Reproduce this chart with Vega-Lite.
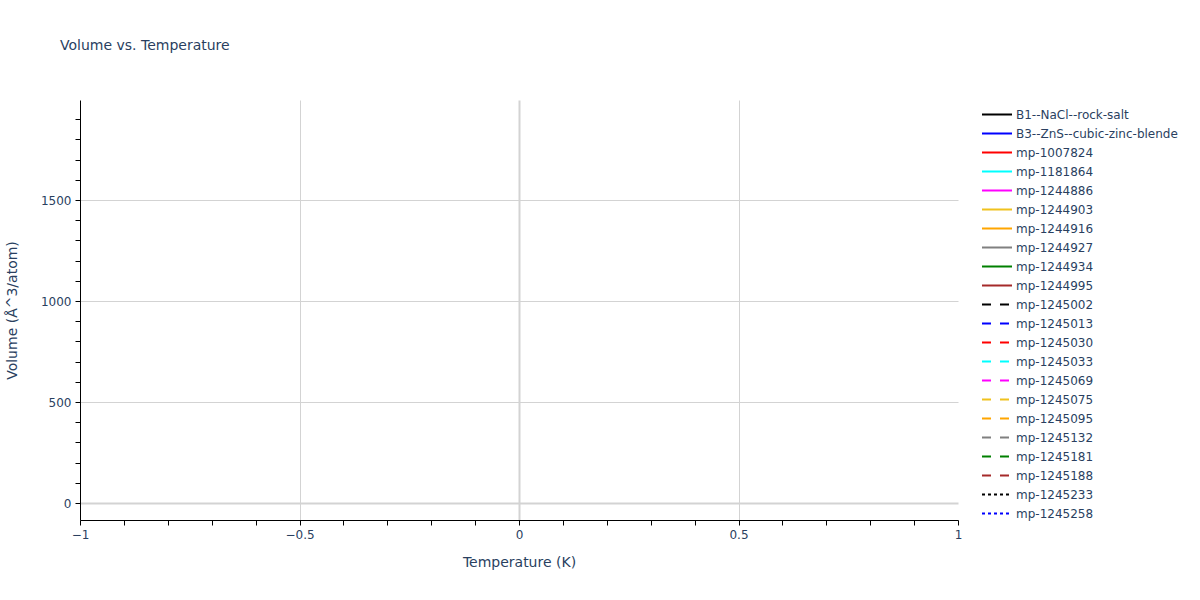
{
  "$schema": "https://vega.github.io/schema/vega-lite/v6.json",
  "autosize": {"type": "none"},
  "width": 878,
  "height": 420,
  "padding": {"left": 80, "top": 100, "right": 242, "bottom": 80},
  "background": "white",
  "title": {
    "text": "Volume vs. Temperature",
    "anchor": "start",
    "frame": "group",
    "dx": -20,
    "offset": 40,
    "baseline": "middle",
    "font": "DejaVu Sans",
    "fontSize": 14,
    "fontWeight": "normal",
    "color": "#2a3f5f"
  },
  "data": {
    "values": [
      {"series": "B1--NaCl--rock-salt", "T": null, "V": null},
      {"series": "B3--ZnS--cubic-zinc-blende", "T": null, "V": null},
      {"series": "mp-1007824", "T": null, "V": null},
      {"series": "mp-1181864", "T": null, "V": null},
      {"series": "mp-1244886", "T": null, "V": null},
      {"series": "mp-1244903", "T": null, "V": null},
      {"series": "mp-1244916", "T": null, "V": null},
      {"series": "mp-1244927", "T": null, "V": null},
      {"series": "mp-1244934", "T": null, "V": null},
      {"series": "mp-1244995", "T": null, "V": null},
      {"series": "mp-1245002", "T": null, "V": null},
      {"series": "mp-1245013", "T": null, "V": null},
      {"series": "mp-1245030", "T": null, "V": null},
      {"series": "mp-1245033", "T": null, "V": null},
      {"series": "mp-1245069", "T": null, "V": null},
      {"series": "mp-1245075", "T": null, "V": null},
      {"series": "mp-1245095", "T": null, "V": null},
      {"series": "mp-1245132", "T": null, "V": null},
      {"series": "mp-1245181", "T": null, "V": null},
      {"series": "mp-1245188", "T": null, "V": null},
      {"series": "mp-1245233", "T": null, "V": null},
      {"series": "mp-1245258", "T": null, "V": null}
    ]
  },
  "mark": {"type": "line", "strokeWidth": 2},
  "encoding": {
    "x": {
      "field": "T",
      "type": "quantitative",
      "title": "Temperature (K)",
      "scale": {"domain": [-1, 1], "nice": false, "zero": false},
      "axis": {
        "values": [-1, -0.9, -0.8, -0.7, -0.6, -0.5, -0.4, -0.3, -0.2, -0.1, 0, 0.1, 0.2, 0.3, 0.4, 0.5, 0.6, 0.7, 0.8, 0.9, 1],
        "format": "~g",
        "labelExpr": "abs(datum.value * 2 - round(datum.value * 2)) < 0.000001 ? datum.label : ''",
        "gridOpacity": {"condition": {"test": "abs(datum.value * 2 - round(datum.value * 2)) < 0.000001 && abs(datum.value) < 0.99", "value": 1}, "value": 0},
        "gridWidth": {"condition": {"test": "abs(datum.value) < 0.000001", "value": 2}, "value": 1},
        "titlePadding": 15
      }
    },
    "y": {
      "field": "V",
      "type": "quantitative",
      "title": "Volume (Å^3/atom)",
      "scale": {"domain": [-84, 1995], "nice": false, "zero": false},
      "axis": {
        "values": [0, 100, 200, 300, 400, 500, 600, 700, 800, 900, 1000, 1100, 1200, 1300, 1400, 1500, 1600, 1700, 1800, 1900],
        "format": "d",
        "labelExpr": "datum.value % 500 == 0 ? datum.label : ''",
        "gridOpacity": {"condition": {"test": "datum.value % 500 == 0", "value": 1}, "value": 0},
        "gridWidth": {"condition": {"test": "datum.value == 0", "value": 2}, "value": 1},
        "titlePadding": 21
      }
    },
    "color": {
      "field": "series",
      "type": "nominal",
      "title": null,
      "scale": {
        "domain": ["B1--NaCl--rock-salt", "B3--ZnS--cubic-zinc-blende", "mp-1007824", "mp-1181864", "mp-1244886", "mp-1244903", "mp-1244916", "mp-1244927", "mp-1244934", "mp-1244995", "mp-1245002", "mp-1245013", "mp-1245030", "mp-1245033", "mp-1245069", "mp-1245075", "mp-1245095", "mp-1245132", "mp-1245181", "mp-1245188", "mp-1245233", "mp-1245258"],
        "range": ["black", "blue", "red", "cyan", "magenta", "#F0C21E", "orange", "gray", "green", "brown", "black", "blue", "red", "cyan", "magenta", "#F0C21E", "orange", "gray", "green", "brown", "black", "blue"]
      }
    },
    "strokeDash": {
      "field": "series",
      "type": "nominal",
      "title": null,
      "scale": {
        "domain": ["B1--NaCl--rock-salt", "B3--ZnS--cubic-zinc-blende", "mp-1007824", "mp-1181864", "mp-1244886", "mp-1244903", "mp-1244916", "mp-1244927", "mp-1244934", "mp-1244995", "mp-1245002", "mp-1245013", "mp-1245030", "mp-1245033", "mp-1245069", "mp-1245075", "mp-1245095", "mp-1245132", "mp-1245181", "mp-1245188", "mp-1245233", "mp-1245258"],
        "range": [[1, 0], [1, 0], [1, 0], [1, 0], [1, 0], [1, 0], [1, 0], [1, 0], [1, 0], [1, 0], [9, 9], [9, 9], [9, 9], [9, 9], [9, 9], [9, 9], [9, 9], [9, 9], [9, 9], [9, 9], [3, 3], [3, 3]]
      }
    }
  },
  "config": {
    "font": "DejaVu Sans",
    "view": {"stroke": null},
    "axis": {
      "domainColor": "black",
      "domainWidth": 1,
      "tickColor": "black",
      "tickSize": 5,
      "gridColor": "#d3d3d3",
      "labelFlush": false,
      "labelFont": "DejaVu Sans",
      "labelFontSize": 12,
      "labelColor": "#2a3f5f",
      "labelPadding": 4,
      "titleFont": "DejaVu Sans",
      "titleFontSize": 14,
      "titleFontWeight": "normal",
      "titleColor": "#2a3f5f"
    },
    "legend": {
      "orient": "none",
      "legendX": 901,
      "legendY": 5,
      "padding": 0,
      "symbolType": "stroke",
      "symbolSize": 900,
      "symbolStrokeWidth": 2,
      "clipHeight": 19,
      "rowPadding": 0,
      "labelOffset": 3,
      "labelFont": "DejaVu Sans",
      "labelFontSize": 12,
      "labelColor": "#2a3f5f",
      "labelLimit": 300
    }
  }
}
